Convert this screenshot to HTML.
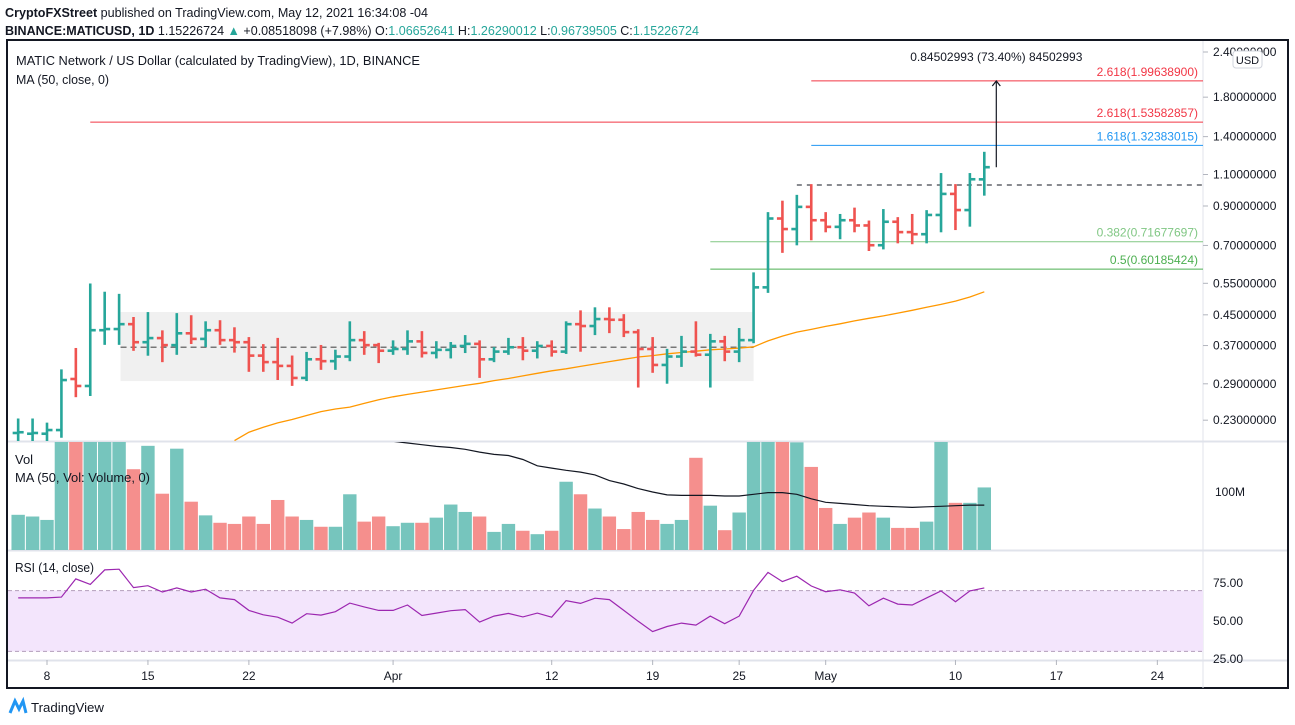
<!DOCTYPE html>
<html><head><meta charset="utf-8"><style>
html,body{margin:0;padding:0;background:#fff;}
svg{display:block;font-family:"Liberation Sans",sans-serif;}
</style></head><body>
<svg id="chart" width="1295" height="725" viewBox="0 0 1295 725" xmlns="http://www.w3.org/2000/svg">
<defs>
<clipPath id="mainClip"><rect x="8" y="41" width="1195" height="400"/></clipPath>
<clipPath id="volClip"><rect x="8" y="442" width="1195" height="108"/></clipPath>
<clipPath id="rsiClip"><rect x="8" y="551" width="1195" height="109"/></clipPath>
</defs>
<rect width="1295" height="725" fill="#fff"/>
<text x="5" y="17" font-size="13" fill="#131722" textLength="423" lengthAdjust="spacingAndGlyphs"><tspan font-weight="bold">CryptoFXStreet</tspan> published on TradingView.com, May 12, 2021 16:34:08 -04</text>
<text x="5" y="35" font-size="13" fill="#131722" textLength="694" lengthAdjust="spacingAndGlyphs"><tspan font-weight="bold">BINANCE:MATICUSD, 1D</tspan> 1.15226724 <tspan fill="#26a69a">▲</tspan> +0.08518098 (+7.98%) O:<tspan fill="#26a69a">1.06652641</tspan> H:<tspan fill="#26a69a">1.26290012</tspan> L:<tspan fill="#26a69a">0.96739505</tspan> C:<tspan fill="#26a69a">1.15226724</tspan></text>

<rect x="7" y="40" width="1281" height="648" fill="none" stroke="#131722" stroke-width="2"/>
<line x1="1203" y1="41" x2="1203" y2="688" stroke="#e0e3eb"/>
<line x1="8" y1="441.5" x2="1287" y2="441.5" stroke="#e0e3eb" stroke-width="2"/>
<line x1="8" y1="550.5" x2="1287" y2="550.5" stroke="#e0e3eb" stroke-width="2"/>
<line x1="8" y1="660.5" x2="1287" y2="660.5" stroke="#e0e3eb" stroke-width="2"/>

<g id="axisG"></g>
<g id="mainG" clip-path="url(#mainClip)"></g>
<g id="volG" clip-path="url(#volClip)"></g>
<g id="rsiG" clip-path="url(#rsiClip)"></g>

<text x="16" y="65" font-size="13" fill="#131722" textLength="404" lengthAdjust="spacingAndGlyphs">MATIC Network / US Dollar (calculated by TradingView), 1D, BINANCE</text>
<text x="16" y="84" font-size="13" fill="#131722" textLength="93" lengthAdjust="spacingAndGlyphs">MA (50, close, 0)</text>
<text x="15" y="464" font-size="13" fill="#131722">Vol</text>
<text x="15" y="482" font-size="13" fill="#131722" textLength="135" lengthAdjust="spacingAndGlyphs">MA (50, Vol: Volume, 0)</text>
<text x="15" y="572" font-size="13" fill="#131722" textLength="79" lengthAdjust="spacingAndGlyphs">RSI (14, close)</text>

<rect x="1233" y="51" width="29" height="17" rx="3" fill="#fff" stroke="#d1d4dc"/>
<text x="1247.5" y="64" font-size="11" fill="#131722" text-anchor="middle">USD</text>

<g>
<path d="M10 713 L15 701 L19 709 L23 701 L26 713" fill="none" stroke="#2196f3" stroke-width="3"/>
<text x="31" y="712" font-size="13" fill="#131722" textLength="73" lengthAdjust="spacingAndGlyphs">TradingView</text>
</g>
</svg>
<script>
const opens=[.212,.211,.211,.216,.299,.286,.408,.411,.424,.378,.388,.371,.400,.386,.408,.383,.378,.347,.333,.325,.301,.339,.335,.345,.383,.371,.358,.362,.380,.353,.360,.369,.374,.339,.356,.366,.358,.369,.356,.424,.419,.438,.436,.403,.362,.327,.345,.356,.349,.380,.356,.383,.536,.831,.777,.895,.822,.788,.822,.795,.701,.814,.762,.752,.850,.972,.877,1.0665];
const highs=[.231,.231,.225,.316,.362,.546,.518,.511,.441,.455,.405,.452,.446,.429,.432,.413,.388,.371,.386,.345,.353,.369,.358,.429,.403,.374,.380,.405,.403,.378,.376,.393,.380,.364,.386,.388,.378,.380,.429,.460,.469,.469,.449,.408,.388,.360,.391,.429,.396,.391,.411,.586,.860,.925,.960,1.028,.860,.850,.885,.815,.877,.833,.850,.871,1.103,1.028,1.103,1.2629];
const lows=[.200,.200,.200,.207,.268,.270,.374,.374,.360,.349,.335,.351,.376,.369,.374,.356,.315,.315,.299,.288,.297,.319,.319,.337,.351,.333,.351,.351,.345,.343,.343,.355,.303,.335,.351,.339,.343,.347,.353,.358,.398,.403,.393,.285,.313,.292,.325,.347,.285,.337,.335,.378,.521,.672,.705,.728,.766,.733,.766,.680,.687,.714,.710,.714,.766,.777,.794,.9674];
const closes=[.213,.212,.216,.297,.286,.408,.411,.424,.378,.388,.371,.400,.386,.408,.383,.378,.347,.333,.325,.301,.339,.335,.345,.383,.371,.358,.362,.380,.353,.360,.369,.374,.339,.356,.366,.358,.369,.356,.424,.419,.438,.436,.403,.362,.327,.345,.356,.349,.380,.356,.383,.536,.831,.777,.895,.822,.788,.822,.795,.701,.814,.762,.752,.850,.972,.877,1.067,1.1523];
const volumes=[60,57,51,250,250,250,250,250,140,181,97,176,83,59,46,44,57,44,86,57,51,39,39,96,48,57,40,46,46,55,78,65,57,30,44,32,26,32,118,96,71,57,35,65,51,44,51,160,76,33,64,250,250,250,187,144,72,44,55,64,55,37,37,48,250,81,81,108];
const ma50=[null,null,null,null,null,null,null,null,null,null,null,null,null,null,null,.202,.213,.220,.226,.231,.237,.243,.247,.250,.256,.262,.267,.271,.275,.279,.283,.287,.291,.296,.300,.305,.310,.315,.319,.324,.329,.334,.339,.344,.347,.351,.354,.357,.360,.362,.364,.367,.381,.393,.403,.410,.418,.425,.433,.440,.447,.455,.463,.472,.481,.491,.504,.521];
const volMa=[null,null,null,null,null,null,null,null,null,null,null,null,null,null,null,null,null,null,null,null,null,null,null,205,197,192,189,186,183,180,178,175,170,166,164,157,146,142,138,135,130,120,114,106,100,95,94,94,94,93,93,96,99,99,96,88,82,80,78,76,75,74,73,74,75,76,77,77];
const rsi=[65.2,65.2,65.2,65.7,77.7,74.1,83.6,84.1,72.0,73.2,69.1,71.8,69.1,70.9,65.2,64.1,57.0,54.1,52.5,48.6,54.8,53.9,56.1,61.8,59.3,57.0,57.0,60.5,53.6,55.2,56.8,57.5,49.3,53.2,55.0,52.7,55.2,52.5,63.4,61.6,65.0,64.1,57.0,49.8,43.0,46.4,48.6,47.3,53.2,48.2,53.2,70.2,82.0,75.9,79.5,73.0,69.3,70.5,68.4,60.0,65.0,61.1,60.5,65.2,69.8,62.7,69.8,71.8];
const priceTicks=[2.4,1.8,1.4,1.1,0.9,0.7,0.55,0.45,0.37,0.29,0.23];
const priceTickLabels=["2.40000000","1.80000000","1.40000000","1.10000000","0.90000000","0.70000000","0.55000000","0.45000000","0.37000000","0.29000000","0.23000000"];
const timeTickDays=[2,9,16,26,37,44,50,56,65,72,79];
const timeTickLabels=["8","15","22","Apr","12","19","25","May","10","17","24"];
const rsiTicks=[75,50,25];
const fibLevels=[1.996389,1.53582857,1.32383015,0.71677697,0.60185424];
const fibLabels=["2.618(1.99638900)","2.618(1.53582857)","1.618(1.32383015)","0.382(0.71677697)","0.5(0.60185424)"];
const fibStartIdx=[55,5,55,48,48];
const fibColors=["#f23645","#f23645","#2196f3","#81c784","#4caf50"];
const rangeBox=[7.1,51,0.458,0.295];
const rangeMid=0.366;
const resistance=[54,1.029];
const measure=[67,1.152,1.996];

const NS="http://www.w3.org/2000/svg";
const xOf=i=>47+14.42*(i-2);
const yP=p=>52+157*Math.log(2.4/p);
const yV=v=>549-v*0.57;
const yR=r=>621-(r-50)*1.52;
function el(tag,attrs,parent){const e=document.createElementNS(NS,tag);for(const k in attrs)e.setAttribute(k,attrs[k]);parent.appendChild(e);return e;}
const mainG=document.getElementById('mainG'),volG=document.getElementById('volG'),rsiG=document.getElementById('rsiG'),axisG=document.getElementById('axisG');

let rb=el('rect',{x:xOf(rangeBox[0]),y:yP(rangeBox[2]),width:xOf(rangeBox[1])-xOf(rangeBox[0]),height:yP(rangeBox[3])-yP(rangeBox[2]),fill:'#f0f0f0'},mainG);


let rm=el('line',{x1:xOf(rangeBox[0]),x2:xOf(rangeBox[1]),y1:yP(rangeMid),y2:yP(rangeMid),stroke:'#777','stroke-width':1.5,'stroke-dasharray':'6,4'},mainG);



fibLevels.forEach((p,k)=>{
  const y=yP(p);
  const ln=el('line',{x1:xOf(fibStartIdx[k]),x2:1203,y1:y,y2:y,stroke:fibColors[k],'stroke-width':1},mainG);
  
  
  const t=el('text',{x:1198,y:y-5,'font-size':12,fill:fibColors[k],'text-anchor':'end'},mainG);
  t.textContent=fibLabels[k];
  
  
});
let rs=el('line',{x1:xOf(resistance[0]),x2:1203,y1:yP(resistance[1]),y2:yP(resistance[1]),stroke:'#131722','stroke-width':1,'stroke-dasharray':'5,5'},mainG);



let d='';ma50.forEach((v,i)=>{if(v!=null)d+=(d?'L':'M')+xOf(i).toFixed(1)+' '+yP(v).toFixed(1);});
let mp=el('path',{d:d,fill:'none',stroke:'#ff9800','stroke-width':1.3},mainG);



opens.forEach((o,i)=>{
  const x=xOf(i),c=closes[i],col=c>=o?'#26a69a':'#ef5350';
  const g=el('g',{stroke:col,'stroke-width':2.6},mainG);
  
  
  el('line',{x1:x,x2:x,y1:yP(highs[i])-1,y2:yP(lows[i])+1},g);
  el('line',{x1:x-5.5,x2:x,y1:yP(o),y2:yP(o)},g);
  el('line',{x1:x,x2:x+5.5,y1:yP(c),y2:yP(c)},g);
});

const mx=xOf(measure[0])+12;
let ar=el('g',{stroke:'#131722','stroke-width':1.2,fill:'none'},mainG);


el('line',{x1:mx,x2:mx,y1:yP(measure[1]),y2:yP(measure[2])},ar);
el('path',{d:`M${mx-4} ${yP(measure[2])+5} L${mx} ${yP(measure[2])} L${mx+4} ${yP(measure[2])+5}`},ar);
let mt=el('text',{x:mx,y:61,'font-size':12,fill:'#131722','text-anchor':'middle'},mainG);
mt.textContent='0.84502993 (73.40%) 84502993';



priceTicks.forEach((p,k)=>{
  const y=yP(p);
  el('line',{x1:1203,x2:1208,y1:y,y2:y,stroke:'#b2b5be'},axisG);
  const t=el('text',{x:1213,y:y+4,'font-size':12,fill:'#131722'},axisG);
  t.textContent=priceTickLabels[k];
  
  
});
let vt=el('text',{x:1215,y:yV(100)+4,'font-size':12,fill:'#131722'},axisG);
vt.textContent='100M';


rsiTicks.forEach(r=>{
  const t=el('text',{x:1213,y:yR(r)+4,'font-size':12,fill:'#131722'},axisG);
  t.textContent=r.toFixed(2);
  
  
});
timeTickDays.forEach((dd,k)=>{
  const x=xOf(dd);
  el('line',{x1:x,x2:x,y1:660,y2:665,stroke:'#b2b5be'},axisG);
  const t=el('text',{x:x,y:680,'font-size':12,fill:'#131722','text-anchor':'middle'},axisG);
  t.textContent=timeTickLabels[k];
  
  
});

volumes.forEach((v,i)=>{
  const up=closes[i]>=opens[i];
  const r=el('rect',{x:xOf(i)-6.7,y:yV(v),width:13.4,height:549-yV(v)+1,fill:up?'#76c5bd':'#f58f8d'},volG);
  
  
});
d='';volMa.forEach((v,i)=>{if(v!=null)d+=(d?'L':'M')+xOf(i).toFixed(1)+' '+yV(v).toFixed(1);});
let vm=el('path',{d:d,fill:'none',stroke:'#131722','stroke-width':1.2},volG);



let band=el('rect',{x:8,y:yR(70),width:1195,height:yR(30)-yR(70),fill:'#f3e5fc'},rsiG);


[70,30].forEach(lv=>{
  const l=el('line',{x1:8,x2:1203,y1:yR(lv),y2:yR(lv),stroke:'#b39dbb','stroke-dasharray':'4,3'},rsiG);
  
  
});
d='';rsi.forEach((v,i)=>{d+=(i?'L':'M')+xOf(i).toFixed(1)+' '+yR(v).toFixed(1);});
let rl=el('path',{d:d,fill:'none',stroke:'#9c27b0','stroke-width':1.2},rsiG);


</script>
</body></html>
